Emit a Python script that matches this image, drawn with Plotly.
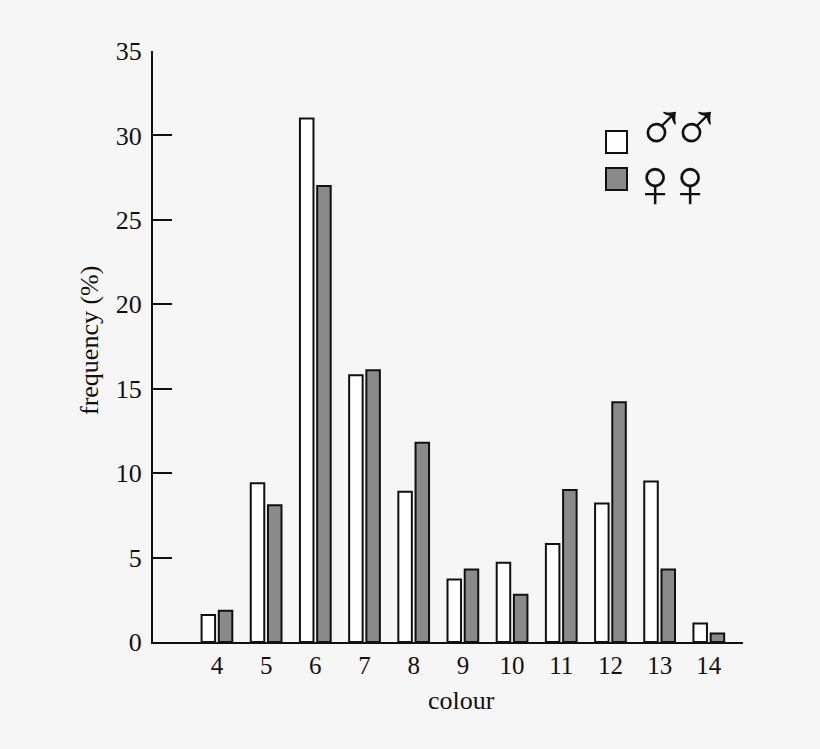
import plotly.graph_objects as go

# Values
colour = [4, 5, 6, 7, 8, 9, 10, 11, 12, 13, 14]
males = [1.6, 9.4, 31, 15.8, 8.9, 3.7, 4.7, 5.8, 8.2, 9.5, 1.1]
females = [1.85, 8.1, 27, 16.1, 11.8, 4.3, 2.8, 9.0, 14.2, 4.3, 0.5]
y_ticks = [0, 5, 10, 15, 20, 25, 30, 35]

bg = '#f6f6f6'
ink = '#111111'
grey = '#8a8a8a'
font = 'Liberation Serif'

fig = go.Figure()
fig.add_trace(go.Bar(x=colour, y=males, name='males', marker=dict(color='white', line=dict(color=ink, width=2))))
fig.add_trace(go.Bar(x=colour, y=females, name='females', marker=dict(color=grey, line=dict(color=ink, width=2))))

fig.update_layout(width=820, height=749, margin=dict(l=153, r=77, t=51, b=107, autoexpand=False),
                  paper_bgcolor=bg, plot_bgcolor=bg, showlegend=False,
                  barmode='group', bargap=0.30, bargroupgap=0.215,
                  font=dict(family=font, size=26, color=ink))

fig.update_xaxes(range=[2.7, 14.695], tickvals=colour, ticks='', showgrid=False, zeroline=False,
                 showline=True, linecolor=ink, linewidth=2, tickfont=dict(size=25))
fig.update_yaxes(range=[0, 35], tickvals=y_ticks, ticks='inside', ticklen=19, tickwidth=2, tickcolor=ink,
                 showgrid=False, zeroline=False, showline=True, linecolor=ink, linewidth=2,
                 ticklabelstandoff=4)

# Axis labels sit off centre in the original, so they are placed by hand
fig.add_annotation(xref='paper', yref='paper', x=(461 - 153) / 590, y=(642 - 700) / 591, text='colour',
                   showarrow=False, xanchor='center', yanchor='middle', font=dict(size=26))
fig.add_annotation(xref='paper', yref='paper', x=(89 - 153) / 590, y=(642 - 341) / 591, text='frequency (%)',
                   showarrow=False, textangle=-90, xanchor='center', yanchor='middle', font=dict(size=26))

# Hand-made key in the top right corner
for key_y, fill in [(142, 'white'), (179, grey)]:
    fig.add_shape(type='rect', xref='paper', yref='paper',
                  x0=(606 - 153) / 590, x1=(627 - 153) / 590,
                  y0=(642 - key_y - 11) / 591, y1=(642 - key_y + 11) / 591,
                  fillcolor=fill, line=dict(color=ink, width=2))
for key_y, symbol, key_xs in [(127, '\u2642', [661, 696]), (183, '\u2640', [655, 690])]:
    for key_x in key_xs:
        fig.add_annotation(xref='paper', yref='paper', x=(key_x - 153) / 590, y=(642 - key_y) / 591,
                           text=symbol, showarrow=False, xanchor='center', yanchor='middle',
                           font=dict(family='Liberation Sans', size=70, color=ink))

# Drop the browser's default page margin so the figure fills the window
fig.write_html("out.html", config=dict(displayModeBar=False), post_script="document.body.style.margin = '0';")
